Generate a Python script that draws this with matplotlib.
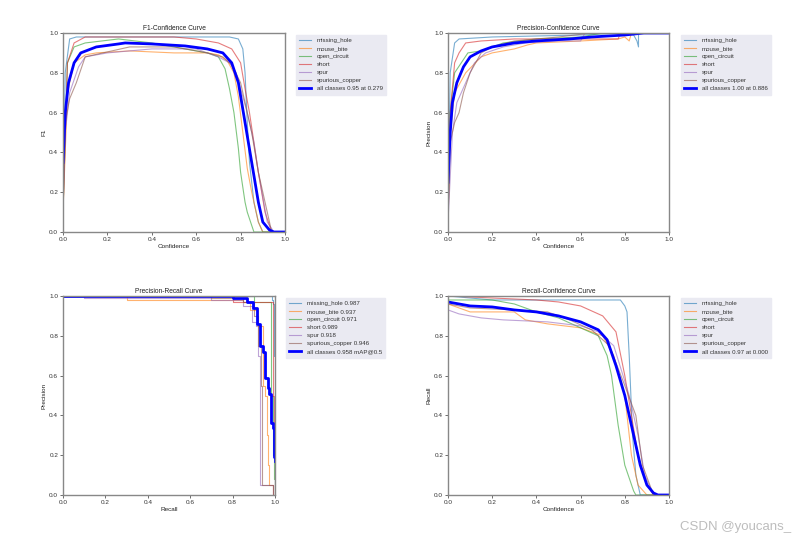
import matplotlib
matplotlib.use("Agg")
import matplotlib.pyplot as plt
import numpy as np

plt.rcParams['font.family'] = ['Liberation Sans', 'DejaVu Sans']

W, H = 798, 540
classes = ["missing_hole", "mouse_bite", "open_circuit", "short", "spur", "spurious_copper"]
colors = ["#1f77b4", "#ff7f0e", "#2ca02c", "#d62728", "#9467bd", "#8c564b"]

# ---------------- F1-Confidence ----------------
f1_x = {
    "missing_hole": [0, 0.01, 0.03, 0.06, 0.2, 0.5, 0.75, 0.79, 0.81, 0.82, 0.83, 0.84, 0.86, 0.88, 0.9, 1.0],
    "mouse_bite": [0, 0.02, 0.05, 0.1, 0.15, 0.3, 0.5, 0.65, 0.7, 0.74, 0.77, 0.79, 0.81, 0.83, 0.85, 0.88, 0.9, 1.0],
    "open_circuit": [0, 0.02, 0.05, 0.1, 0.25, 0.4, 0.55, 0.65, 0.7, 0.73, 0.75, 0.77, 0.79, 0.8, 0.82, 0.83, 0.86, 1.0],
    "short": [0, 0.02, 0.05, 0.1, 0.3, 0.5, 0.6, 0.7, 0.76, 0.8, 0.82, 0.84, 0.86, 0.88, 0.91, 0.94, 1.0],
    "spur": [0, 0.01, 0.03, 0.07, 0.1, 0.2, 0.4, 0.6, 0.7, 0.75, 0.78, 0.83, 0.86, 0.88, 0.92, 0.95, 1.0],
    "spurious_copper": [0, 0.01, 0.03, 0.06, 0.1, 0.3, 0.5, 0.65, 0.72, 0.76, 0.8, 0.85, 0.88, 0.9, 0.94, 1.0],
}
f1_y = {
    "missing_hole": [0.1, 0.8, 0.97, 0.98, 0.98, 0.98, 0.98, 0.97, 0.92, 0.8, 0.55, 0.35, 0.15, 0.05, 0.0, 0.0],
    "mouse_bite": [0.1, 0.7, 0.85, 0.89, 0.9, 0.91, 0.9, 0.9, 0.89, 0.86, 0.8, 0.68, 0.5, 0.32, 0.2, 0.05, 0.0, 0.0],
    "open_circuit": [0.1, 0.85, 0.93, 0.95, 0.97, 0.95, 0.92, 0.9, 0.88, 0.82, 0.72, 0.6, 0.42, 0.3, 0.15, 0.1, 0.0, 0.0],
    "short": [0.1, 0.85, 0.95, 0.98, 0.98, 0.98, 0.97, 0.95, 0.92, 0.85, 0.72, 0.6, 0.45, 0.3, 0.1, 0.0, 0.0],
    "spur": [0.1, 0.5, 0.7, 0.83, 0.88, 0.9, 0.92, 0.92, 0.88, 0.85, 0.8, 0.6, 0.45, 0.3, 0.05, 0.0, 0.0],
    "spurious_copper": [0.1, 0.55, 0.67, 0.75, 0.88, 0.93, 0.93, 0.9, 0.88, 0.84, 0.75, 0.5, 0.3, 0.2, 0.0, 0.0],
}
f1_all_x = [0, 0.01, 0.025, 0.05, 0.08, 0.15, 0.25, 0.28, 0.4, 0.55, 0.65, 0.72, 0.76, 0.79, 0.82, 0.85, 0.88, 0.9, 0.93, 0.95, 1.0]
f1_all_y = [0.35, 0.6, 0.75, 0.85, 0.9, 0.93, 0.945, 0.95, 0.945, 0.935, 0.92, 0.9, 0.85, 0.75, 0.55, 0.35, 0.15, 0.05, 0.01, 0.0, 0.0]

# ---------------- Precision-Confidence ----------------
p_x = {
    "missing_hole": [0, 0.01, 0.03, 0.05, 0.2, 0.6, 0.8, 0.84, 0.855, 0.862, 0.862, 1.0],
    "mouse_bite": [0, 0.01, 0.03, 0.08, 0.15, 0.2, 0.3, 0.36, 0.4, 0.6, 0.77, 0.8, 0.82, 0.83, 1.0],
    "open_circuit": [0, 0.01, 0.03, 0.06, 0.09, 0.15, 0.25, 0.4, 0.6, 0.7, 1.0],
    "short": [0, 0.01, 0.03, 0.05, 0.08, 0.15, 0.3, 0.6, 0.77, 0.78, 1.0],
    "spur": [0, 0.02, 0.04, 0.08, 0.12, 0.17, 0.25, 0.35, 0.5, 0.6, 0.62, 1.0],
    "spurious_copper": [0, 0.01, 0.03, 0.05, 0.07, 0.1, 0.15, 0.2, 0.3, 0.5, 0.65, 1.0],
}
p_y = {
    "missing_hole": [0.1, 0.8, 0.95, 0.97, 0.98, 0.99, 1.0, 0.99, 0.96, 0.93, 1.0, 1.0],
    "mouse_bite": [0.05, 0.5, 0.7, 0.8, 0.88, 0.9, 0.92, 0.94, 0.95, 0.96, 0.97, 0.98, 0.96, 1.0, 1.0],
    "open_circuit": [0.05, 0.6, 0.8, 0.85, 0.9, 0.91, 0.95, 0.97, 0.98, 1.0, 1.0],
    "short": [0.05, 0.6, 0.85, 0.9, 0.95, 0.96, 0.97, 0.97, 0.97, 1.0, 1.0],
    "spur": [0.05, 0.5, 0.65, 0.75, 0.85, 0.9, 0.93, 0.95, 0.96, 0.96, 1.0, 1.0],
    "spurious_copper": [0.05, 0.45, 0.55, 0.6, 0.7, 0.8, 0.9, 0.93, 0.96, 0.98, 1.0, 1.0],
}
p_all_x = [0, 0.01, 0.02, 0.04, 0.07, 0.1, 0.15, 0.2, 0.3, 0.4, 0.55, 0.65, 0.8, 0.886, 1.0]
p_all_y = [0.25, 0.5, 0.65, 0.75, 0.83, 0.88, 0.91, 0.93, 0.95, 0.96, 0.97, 0.98, 0.99, 1.0, 1.0]

# ---------------- Precision-Recall ----------------
pr_x = {
    "missing_hole": [0, 0.5, 0.98, 0.985, 0.99, 0.995, 1.0, 1.0],
    "mouse_bite": [0, 0.3, 0.3, 0.85, 0.88, 0.92, 0.945, 0.945, 0.955, 0.96, 0.965, 0.97, 0.99],
    "open_circuit": [0, 0.9, 0.9, 0.98, 0.98, 0.99, 0.995, 1.0],
    "short": [0, 0.8, 0.8, 0.99, 0.99, 0.995, 1.0],
    "spur": [0, 0.1, 0.7, 0.85, 0.89, 0.91, 0.92, 0.93, 0.93, 0.99],
    "spurious_copper": [0, 0.7, 0.85, 0.9, 0.92, 0.935, 0.94, 0.94, 0.99],
}
pr_y = {
    "missing_hole": [1.0, 1.0, 1.0, 0.98, 0.96, 0.7, 0.3, 0.0],
    "mouse_bite": [1.0, 1.0, 0.98, 0.97, 0.93, 0.85, 0.83, 0.55, 0.5, 0.3, 0.15, 0.05, 0.0],
    "open_circuit": [1.0, 1.0, 0.97, 0.97, 0.5, 0.2, 0.08, 0.0],
    "short": [1.0, 1.0, 0.97, 0.97, 0.5, 0.2, 0.0],
    "spur": [1.0, 0.99, 0.98, 0.95, 0.87, 0.85, 0.7, 0.5, 0.05, 0.0],
    "spurious_copper": [1.0, 0.99, 0.97, 0.9, 0.75, 0.55, 0.35, 0.05, 0.0],
}
pr_all_x = [0, 0.7, 0.8, 0.87, 0.898, 0.914, 0.93, 0.945, 0.953, 0.965, 0.973, 0.98, 0.992, 0.995, 1.0]
pr_all_y = [1.0, 1.0, 0.99, 0.97, 0.94, 0.86, 0.75, 0.72, 0.59, 0.54, 0.51, 0.36, 0.335, 0.19, 0.17]

# ---------------- Recall-Confidence ----------------
r_x = {
    "missing_hole": [0, 0.2, 0.78, 0.8, 0.81, 0.82, 0.835, 0.85, 0.87, 1.0],
    "mouse_bite": [0, 0.1, 0.3, 0.35, 0.45, 0.6, 0.7, 0.75, 0.8, 0.83, 0.86, 0.9, 1.0],
    "open_circuit": [0, 0.2, 0.3, 0.4, 0.5, 0.62, 0.68, 0.72, 0.74, 0.77, 0.8, 0.84, 0.85, 1.0],
    "short": [0, 0.2, 0.4, 0.5, 0.6, 0.7, 0.76, 0.8, 0.83, 0.86, 0.9, 0.93, 1.0],
    "spur": [0, 0.05, 0.15, 0.25, 0.45, 0.6, 0.68, 0.75, 0.82, 0.86, 0.89, 0.93, 1.0],
    "spurious_copper": [0, 0.1, 0.3, 0.45, 0.55, 0.65, 0.73, 0.8, 0.85, 0.88, 0.93, 1.0],
}
r_y = {
    "missing_hole": [1.0, 0.98, 0.98, 0.95, 0.92, 0.7, 0.3, 0.1, 0.0, 0.0],
    "mouse_bite": [0.96, 0.92, 0.92, 0.88, 0.86, 0.84, 0.8, 0.7, 0.5, 0.2, 0.05, 0.0, 0.0],
    "open_circuit": [0.98, 0.98, 0.96, 0.92, 0.89, 0.83, 0.8, 0.7, 0.6, 0.35, 0.15, 0.02, 0.0, 0.0],
    "short": [1.0, 0.99, 0.98, 0.97, 0.95, 0.9, 0.82, 0.6, 0.4, 0.2, 0.05, 0.0, 0.0],
    "spur": [0.93, 0.91, 0.89, 0.88, 0.87, 0.85, 0.82, 0.75, 0.5, 0.3, 0.1, 0.0, 0.0],
    "spurious_copper": [0.96, 0.94, 0.93, 0.92, 0.88, 0.83, 0.75, 0.55, 0.4, 0.15, 0.0, 0.0],
}
r_all_x = [0, 0.1, 0.2, 0.3, 0.4, 0.5, 0.6, 0.68, 0.72, 0.76, 0.8, 0.84, 0.87, 0.9, 0.93, 0.95, 1.0]
r_all_y = [0.97, 0.95, 0.945, 0.93, 0.92, 0.9, 0.87, 0.83, 0.78, 0.65, 0.5, 0.3, 0.15, 0.05, 0.01, 0.0, 0.0]

fig = plt.figure(figsize=(W / 100, H / 100), dpi=100)


def make_ax(x0, y0, x1, y1):
    return fig.add_axes([x0 / W, 1 - y1 / H, (x1 - x0) / W, (y1 - y0) / H])


def style(ax, title, xlabel, ylabel, leg_px):
    ax.set_xlim(0, 1)
    ax.set_ylim(0, 1)
    ax.set_xticks(np.arange(0, 1.01, 0.2))
    ax.set_yticks(np.arange(0, 1.01, 0.2))
    ax.tick_params(labelsize=4.6, length=2, width=0.5, pad=1.5, colors="#333333")
    for s in ax.spines.values():
        s.set_color("#888888")
        s.set_linewidth(1.0)
    ax.set_title(title, fontsize=4.8, pad=2.5, color="#222222")
    ax.set_xlabel(xlabel, fontsize=4.6, labelpad=1.5, color="#222222")
    ax.set_ylabel(ylabel, fontsize=4.6, labelpad=2, color="#222222")
    leg = ax.legend(loc="upper left", bbox_to_anchor=(leg_px[0] / W, 1 - leg_px[1] / H),
                    bbox_transform=fig.transFigure, fontsize=4.4, frameon=True,
                    facecolor="#EAEAF2", edgecolor="#EAEAF2", framealpha=1,
                    handlelength=1.9, handletextpad=1.0, borderpad=0.5,
                    labelspacing=0.45, borderaxespad=0, fancybox=False)
    for t in leg.get_texts():
        t.set_color("#333333")


ALPHA = 0.6

# TL
ax1 = make_ax(63, 33, 285, 232)
for c, col in zip(classes, colors):
    ax1.plot(f1_x[c], f1_y[c], lw=0.8, color=col, alpha=ALPHA, label=c)
ax1.plot(f1_all_x, f1_all_y, lw=2, color="blue", label="all classes 0.95 at 0.279")
style(ax1, "F1-Confidence Curve", "Confidence", "F1", (296, 35))

# TR
ax2 = make_ax(448, 33, 669, 232)
for c, col in zip(classes, colors):
    ax2.plot(p_x[c], p_y[c], lw=0.8, color=col, alpha=ALPHA, label=c)
ax2.plot(p_all_x, p_all_y, lw=2, color="blue", label="all classes 1.00 at 0.886")
style(ax2, "Precision-Confidence Curve", "Confidence", "Precision", (681, 35))

# BL
ax3 = make_ax(63, 296, 275, 495)
pr_ap = ["0.987", "0.937", "0.971", "0.989", "0.918", "0.946"]
for c, col, ap in zip(classes, colors, pr_ap):
    ax3.step(pr_x[c], pr_y[c], where="post", lw=0.8, color=col, alpha=ALPHA, label=f"{c} {ap}")
ax3.step(pr_all_x, pr_all_y, where="post", lw=2, color="blue", label="all classes 0.958 mAP@0.5")
style(ax3, "Precision-Recall Curve", "Recall", "Precision", (286, 298))

# BR
ax4 = make_ax(448, 296, 669, 495)
for c, col in zip(classes, colors):
    ax4.plot(r_x[c], r_y[c], lw=0.8, color=col, alpha=ALPHA, label=c)
ax4.plot(r_all_x, r_all_y, lw=2, color="blue", label="all classes 0.97 at 0.000")
style(ax4, "Recall-Confidence Curve", "Confidence", "Recall", (681, 298))

fig.text(791 / W, 1 - 527 / H, "CSDN @youcans_", fontsize=9.5, color="#bdbdbd",
         ha="right", va="center")

fig.savefig("out.png", dpi=100, facecolor="white")
